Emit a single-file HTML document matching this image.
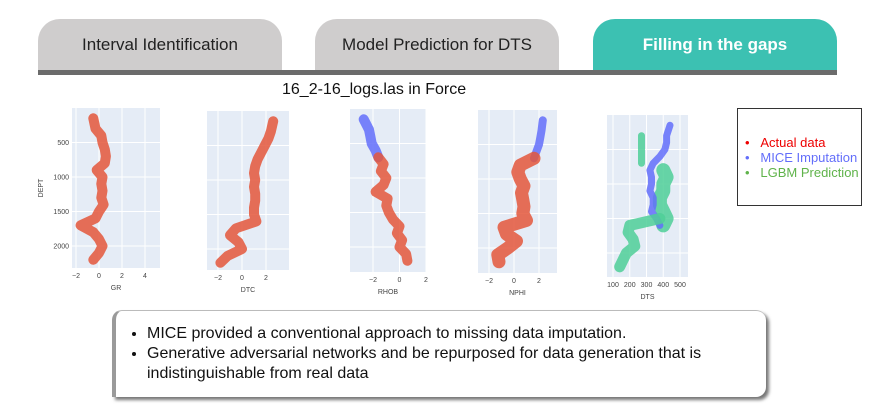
<!DOCTYPE html>
<html><head><meta charset="utf-8">
<style>
body{margin:0;width:879px;height:405px;background:#fff;font-family:"Liberation Sans",sans-serif;position:relative;overflow:hidden}
.tab{position:absolute;top:19px;width:244px;height:52px;border-radius:22px 22px 0 0;display:flex;align-items:center;justify-content:center;font-size:17px;color:#222}
#bar{position:absolute;left:38px;top:70px;width:799px;height:5px;background:#6b6b6b}
#title{position:absolute;left:282px;top:81px;font-size:16px;color:#111}
#legend{position:absolute;left:737px;top:108px;width:123px;height:96px;border:1px solid #333;font-size:13px}
#legend div{position:absolute;left:7px;white-space:nowrap}
#box{position:absolute;left:112px;top:310px;width:650px;height:86px;background:#fff;border-left:4px solid #9a9a9a;border-top:1px solid #bbb;border-radius:10px 10px 10px 0;box-shadow:3px 3px 3px #777;font-size:16px;color:#111}
#box ul{margin:13px 0 0 0;padding-left:31px;line-height:20px}
</style></head><body>
<div class="tab" style="left:38px;background:#cfcdcd">Interval Identification</div>
<div class="tab" style="left:315px;background:#cfcdcd">Model Prediction for DTS</div>
<div class="tab" style="left:593px;background:#3cc1b2;color:#fff;font-weight:bold">Filling in the gaps</div>
<div id="bar"></div>
<div id="title">16_2-16_logs.las in Force</div>
<svg id="chart" width="879" height="405" style="position:absolute;left:0;top:0"></svg>
<div id="legend">
<div style="top:26px;color:#e00">•&nbsp;&nbsp;&nbsp;Actual data</div>
<div style="top:41px;color:#636efa">•&nbsp;&nbsp;&nbsp;MICE Imputation</div>
<div style="top:56px;color:#5fb34a">•&nbsp;&nbsp;&nbsp;LGBM Prediction</div>
</div>
<div id="box"><ul>
<li>MICE provided a conventional approach to missing data imputation.</li>
<li>Generative adversarial networks and be repurposed for data generation that is indistinguishable from real data</li>
</ul></div>
<script>
const depths=[150,300,400,500,600,700,800,900,1000,1100,1200,1300,1400,1500,1600,1700,1800,1900,2000,2100,2200];
const grVals=[-0.5,-0.3,0.2,0.3,0.5,0.6,0.5,-0.2,0.3,0.2,0.3,0.2,0.4,0.0,-0.3,-1.6,-0.5,0,0.3,0.0,-0.5];
const dtcVals=[2.6,2.4,2.2,1.9,1.6,1.3,1.1,1.0,1.1,1.0,1.1,1.1,1.0,1.0,1.2,-0.5,-1.0,-0.3,0.0,-1.2,-1.8];
const rhobMice=[-2.7,-2.3,-2.2,-2.1,-1.8,-1.6];
const rhobVals=[-1.6,-1.2,-1.4,-1.0,-1.2,-1.8,-0.9,-1.0,-0.8,-0.5,0.0,-0.2,0.2,0.0,0.5,0.6];
const nphiMice=[2.3,2.2,2.1,2.0,1.8,1.6];
const nphiVals=[1.6,0.5,0.3,0.5,0.8,0.6,0.7,0.8,0.7,1.0,-0.8,-0.6,0.2,-0.5,-1.3,-1.2];
const dtsMice=[440,420,420,410,380,340,320,330,330,320,340,340,330,360,380];
const dtsLgbmTop=[270,270,270,270,270];
const dtsLgbmMid=[400,420,400,400,380,380,400,420,400];
const dtsLgbmLow=[380,200,190,220,230,180,160,140];
const xTicksGR=[-2,0,2,4], xTicksA=[-2,0,2], xTicksDTS=[100,200,300,400,500];
const dTicks=[500,1000,1500,2000];
const NS="http://www.w3.org/2000/svg", svg=document.getElementById('chart');
function mk(t,a){const e=document.createElementNS(NS,t);for(const k in a)e.setAttribute(k,a[k]);svg.appendChild(e);return e;}
function panel(name,x0,x1,y0,y1,v0,px0,v1,px1,ticks,label,showDepth){
  const X=v=>px0+(v-v0)*(px1-px0)/(v1-v0);
  const Y=d=>y0+d*34.5/500;
  const bg=mk('rect',{x:x0,y:y0,width:x1-x0,height:y1-y0,fill:'#e5ecf6'});
  
  ticks.forEach(t=>{const l=mk('line',{x1:X(t),x2:X(t),y1:y0,y2:y1,stroke:'#fff','stroke-width':1});
    
    const tx=mk('text',{x:X(t),y:y1+10,'font-size':7,'text-anchor':'middle',fill:'#444'});tx.textContent=(t<0?'−'+(-t):t);
    });
  dTicks.forEach(d=>{const l=mk('line',{x1:x0,x2:x1,y1:Y(d),y2:Y(d),stroke:'#fff','stroke-width':1});
    
    if(showDepth){const tx=mk('text',{x:x0-3,y:Y(d)+2.5,'font-size':7,'text-anchor':'end',fill:'#444'});tx.textContent=d;
      }});
  const lb=mk('text',{x:(x0+x1)/2,y:y1+22,'font-size':7,'text-anchor':'middle',fill:'#444'});lb.textContent=label;
  
  return {X,Y};
}
function series(p,name,ds,vs,color,w){
  const pts=vs.map((v,i)=>p.X(v).toFixed(1)+','+p.Y(ds[i]).toFixed(1)).join(' ');
  const e=mk('polyline',{points:pts,fill:'none',stroke:color,'stroke-width':w,'stroke-linejoin':'round','stroke-linecap':'round',opacity:0.85});
  
}
const yt=mk('text',{x:43,y:188,'font-size':7,'text-anchor':'middle',fill:'#444',transform:'rotate(-90 43 188)'});
yt.textContent='DEPT';


const RED='#e4573b',BLUE='#636efa',GREEN='#4fcf98';
let p=panel('gr',72,160,108,268,-2,76,4,145,xTicksGR,'GR',true);
series(p,'gr-actual',depths,grVals,RED,10);
p=panel('dtc',207,289,111,270,-2,218,2,266,xTicksA,'DTC',false);
series(p,'dtc-actual',depths,dtcVals,RED,10);
p=panel('rhob',350,426,109,272,-2,373,2,426,xTicksA,'RHOB',false);
series(p,'rhob-mice',depths.slice(0,6),rhobMice,BLUE,10);
series(p,'rhob-actual',depths.slice(5),rhobVals,RED,10);
p=panel('nphi',478,557,110,273,-2,489,2,539,xTicksA,'NPHI',false);
series(p,'nphi-mice',depths.slice(0,6),nphiMice,BLUE,8);
series(p,'nphi-actual',depths.slice(5),nphiVals,RED,13);
p=panel('dts',607,688,115,277,100,613,500,680,xTicksDTS,'DTS',false);
series(p,'dts-lgbm-top',depths.slice(1,6),dtsLgbmTop,GREEN,7);
series(p,'dts-lgbm-mid',depths.slice(6,15),dtsLgbmMid,GREEN,14);
series(p,'dts-mice',depths.slice(0,15),dtsMice,BLUE,7);
series(p,'dts-lgbm-low',depths.slice(13),dtsLgbmLow,GREEN,11);
</script>
</body></html>
